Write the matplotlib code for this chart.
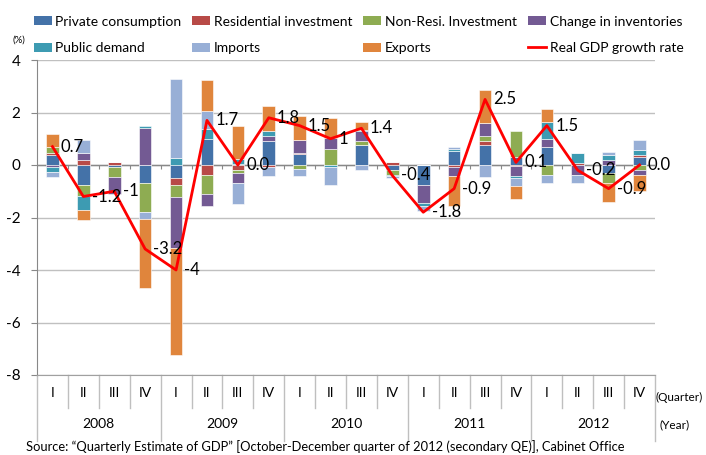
import numpy as np
import matplotlib
matplotlib.use('Agg')
from matplotlib import pyplot as plt
from matplotlib import transforms
from matplotlib.patches import Patch
from matplotlib.lines import Line2D

plt.rcParams['font.family'] = ['Lato', 'DejaVu Sans']

# quarters / years
quarters = ['I', 'II', 'III', 'IV'] * 5
years = ['2008', '2009', '2010', '2011', '2012']

# contributions (percentage points)
private = [0.39, -0.78, -0.07, -0.68, -0.49, 0.98, 0.05, 0.9, 0.42, 0.0,
           0.75, -0.18, -0.78, 0.52, 0.78, 0.3, 0.7, 0.0, -0.3, 0.3]
residential = [0.05, 0.2, 0.1, 0.0, -0.29, -0.38, -0.18, -0.08, 0.05, 0.0,
               0.0, 0.1, 0.0, -0.08, 0.14, -0.03, 0.0, 0.08, 0.0, 0.1]
nonresi = [0.25, -0.4, -0.4, -1.1, -0.43, -0.71, -0.13, 0.0, -0.15, 0.61,
           0.17, -0.19, 0.0, 0.0, 0.19, 1.0, -0.39, 0.0, -0.38, -0.18]
inventories = [-0.07, 0.25, -0.63, 1.41, -1.96, -0.48, -0.38, 0.19, 0.5, 0.42,
               0.36, 0.0, -0.68, -0.33, 0.49, -0.39, 0.28, -0.39, 0.2, -0.19]
public = [-0.2, -0.55, 0.0, 0.09, 0.27, 0.39, 0.17, 0.19, 0.0, -0.09,
          0.06, -0.05, -0.1, 0.1, 0.0, -0.09, 0.67, 0.39, 0.2, 0.19]
imports = [-0.19, 0.5, 0.0, -0.29, 2.99, 0.69, -0.8, -0.33, -0.25, -0.68,
           -0.2, -0.08, -0.21, 0.08, -0.47, -0.3, -0.3, -0.3, 0.08, 0.38]
exports = [0.5, -0.38, 0.0, -2.6, -4.05, 1.19, 1.26, 0.95, 0.9, 0.76,
           0.28, 0.0, 0.0, -1.15, 1.26, -0.5, 0.5, 0.0, -0.72, -0.63]
gdp = [0.7, -1.2, -1.0, -3.2, -4.0, 1.7, 0.0, 1.8, 1.5, 1.0,
       1.4, -0.4, -1.8, -0.9, 2.5, 0.1, 1.5, -0.2, -0.9, 0.0]
gdp_labels = ['0.7', '-1.2', '-1', '-3.2', '-4', '1.7', '0.0', '1.8', '1.5', '1',
              '1.4', '-0.4', '-1.8', '-0.9', '2.5', '0.1', '1.5', '-0.2', '-0.9', '0.0']

series = [
    ('Private consumption', private, '#4472a8'),
    ('Residential investment', residential, '#b84a47'),
    ('Non-Resi. Investment', nonresi, '#8eac52'),
    ('Change in inventories', inventories, '#735a93'),
    ('Public demand', public, '#3d9bb2'),
    ('Imports', imports, '#98afd6'),
    ('Exports', exports, '#e0853c'),
]

fig = plt.figure(figsize=(7.06, 4.55), dpi=100)
ax = fig.add_axes([37 / 706, 1 - 375 / 455, 618 / 706, 315 / 455])

x = np.arange(len(gdp))
pos_base = np.zeros(len(x))
neg_base = np.zeros(len(x))
for name, vals, col in series:
    v = np.array(vals)
    bottoms = np.where(v >= 0, pos_base, neg_base)
    ax.bar(x, v, 0.41, bottom=bottoms, color=col, edgecolor='white', linewidth=0.4, zorder=2)
    pos_base += np.where(v >= 0, v, 0)
    neg_base += np.where(v < 0, v, 0)

ax.plot(x, gdp, color='#ff0000', lw=2, zorder=3)
for xi, yi, lab in zip(x, gdp, gdp_labels):
    ax.annotate(lab, (xi, yi), xytext=(6, 0), textcoords='offset points',
                ha='left', va='center', fontsize=12, zorder=4)

ax.set_xlim(-0.5, 19.5)
ax.set_ylim(-8, 4)
ax.set_yticks([4, 2, 0, -2, -4, -6, -8])
ax.set_yticklabels(['4', '2', '0', '-2', '-4', '-6', '-8'], fontsize=11)
ax.tick_params(axis='y', length=4, color='#888888', pad=8)
ax.set_xticks([])
ax.grid(axis='y', color='#c0c0c0', lw=1, zorder=0)
ax.set_axisbelow(True)
for s in ['top', 'right']:
    ax.spines[s].set_visible(False)
ax.spines['left'].set_color('#888888')
ax.spines['bottom'].set_color('#a0a0a0')

# zero axis line with small ticks between categories
ax.axhline(0, color='#888888', lw=1, zorder=1)
ax.vlines(np.arange(0.5, 19.5, 1), 0, -0.15, color='#888888', lw=0.8, zorder=1)

# category axis (quarters / years)
trans = transforms.blended_transform_factory(ax.transData, ax.transAxes)
for b in np.arange(-0.5, 20, 1):
    yend = -0.21 if (b + 0.5) % 4 == 0 else -0.105
    ax.plot([b, b], [0, yend], transform=trans, color='#bfbfbf', lw=1, clip_on=False)
for xi, q in zip(x, quarters):
    ax.text(xi, -0.056, q, transform=trans, ha='center', va='center', fontsize=10)
for k, yr in enumerate(years):
    ax.text(4 * k + 1.5, -0.155, yr, transform=trans, ha='center', va='center', fontsize=10)
fig.text(655 / 706, 1 - 397 / 455, '(Quarter)', ha='left', va='center', fontsize=8.5)
fig.text(659 / 706, 1 - 425 / 455, '(Year)', ha='left', va='center', fontsize=8.5)
fig.text(19 / 706, 1 - 40 / 455, '(%)', ha='center', va='center', fontsize=7)
fig.text(26 / 706, 1 - 447 / 455,
         'Source: \u201cQuarterly Estimate of GDP\u201d [October-December quarter of 2012 (secondary QE)], Cabinet Office',
         ha='left', va='center', fontsize=9.3)

# legend
handles = [Patch(facecolor=c, label=n) for n, v, c in series]
handles.append(Line2D([0], [0], color='#ff0000', lw=2, label='Real GDP growth rate'))
order = [0, 4, 1, 5, 2, 6, 3, 7]
fig.legend([handles[i] for i in order], [handles[i].get_label() for i in order],
           ncol=4, loc='upper left', bbox_to_anchor=(21 / 706, 1 - 3 / 455),
           frameon=False, fontsize=10, handlelength=1.3, handleheight=0.6,
           handletextpad=0.25, columnspacing=0.8, labelspacing=1.05)

fig.savefig('out.png', dpi=100)
